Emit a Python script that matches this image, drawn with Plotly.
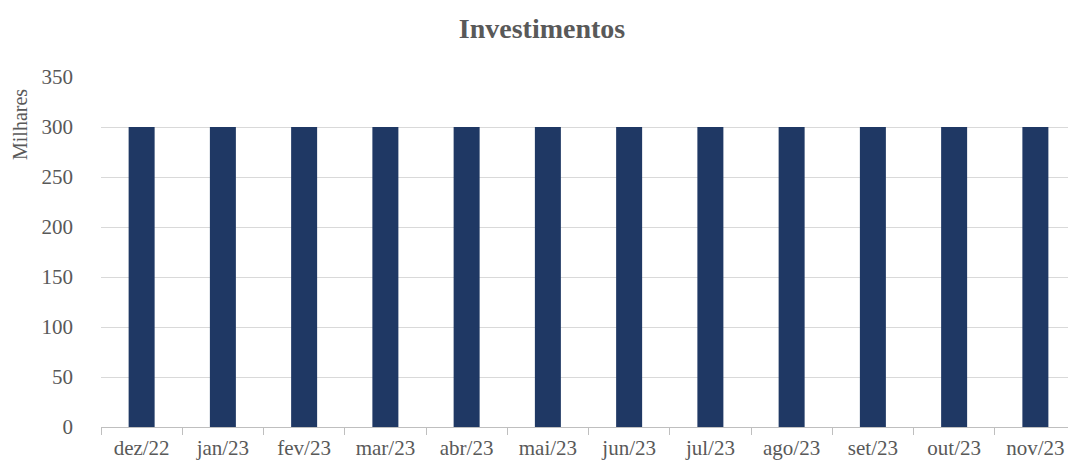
import plotly.graph_objects as go

categories = ["dez/22", "jan/23", "fev/23", "mar/23", "abr/23", "mai/23",
              "jun/23", "jul/23", "ago/23", "set/23", "out/23", "nov/23"]
values = [300, 300, 300, 300, 300, 300, 300, 300, 300, 300, 300, 300]
y_ticks = [0, 50, 100, 150, 200, 250, 300, 350]

FONT = "Liberation Serif"
GRAY = "#595959"

W, H = 1068, 456
L, T, B = 93, 69, 37
PW, PH = W - L, H - T - B

fig = go.Figure(go.Bar(x=categories, y=values, marker_color="#1F3864",
                       marker_line_width=0))

fig.update_layout(
    width=W, height=H,
    margin=dict(l=L, r=0, t=T, b=B),
    plot_bgcolor="white", paper_bgcolor="white",
    bargap=0.68,
    showlegend=False,
    font=dict(family=FONT, color=GRAY, size=21),
    title=dict(text="<b>Investimentos</b>", x=0.5, xanchor="center",
               y=1 - 20 / H, yanchor="middle", font=dict(family=FONT, size=28, color=GRAY)),
)
fig.update_xaxes(
    showline=True, linecolor="#BFBFBF", linewidth=1, automargin=False,
    ticks="outside", tickson="boundaries", ticklen=7, tickcolor="#BFBFBF",
    showgrid=False, tickfont=dict(size=21, color=GRAY), ticklabelstandoff=2,
)
fig.update_yaxes(
    range=[0, 350], tickvals=y_ticks, showgrid=True, gridcolor="#D9D9D9",
    gridwidth=1, zeroline=False, showline=False, ticks="", automargin=False,
    tickfont=dict(size=21, color=GRAY), ticklabelstandoff=27,
)
fig.add_annotation(text="Milhares", xref="paper", yref="paper",
                   x=(12 - L) / PW, xanchor="center",
                   y=1 - (117 - T) / PH, yanchor="middle",
                   textangle=-90, showarrow=False,
                   font=dict(family=FONT, size=20, color=GRAY))

fig.write_html("out.html")
